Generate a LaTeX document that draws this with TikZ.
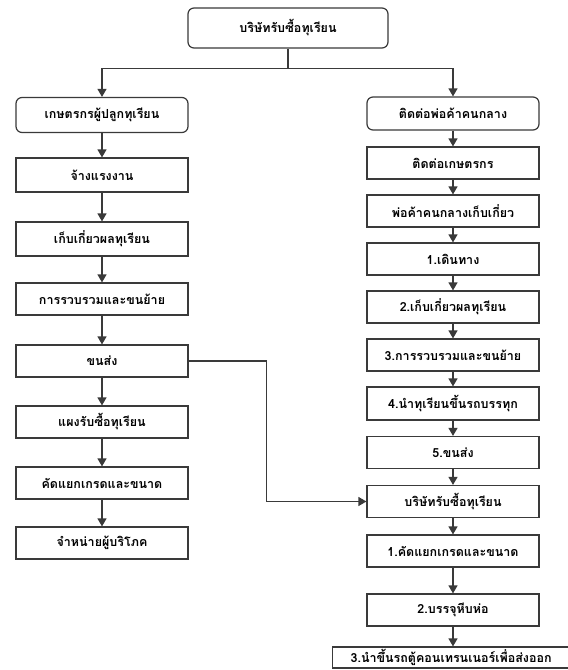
\documentclass[tikz,border=0pt]{standalone}
\usepackage{fontspec}
\newfontfamily\thaifont[Script=Thai]{Loma}
\usetikzlibrary{arrows.meta}
\definecolor{ln}{HTML}{3A3A3A}
\tikzset{
  box/.style={draw=ln, line width=1.2pt, fill=white, minimum width=172pt, minimum height=32pt,
    inner sep=1pt, font=\thaifont\bfseries\fontsize{12.5}{14}\selectfont, text=black},
  rbox/.style={box, rounded corners=6pt},
  arr/.style={draw=ln, line width=1.2pt, -{Triangle[width=9pt,length=8pt]}},
  ln/.style={draw=ln, line width=1.2pt}
}
\begin{document}
\begin{tikzpicture}[x=1pt,y=-1pt]
\useasboundingbox (0,0) rectangle (568,670);
\clip (0,0) rectangle (568,670);
\fill[white] (0,0) rectangle (568,670);
% top
\node[rbox, minimum width=200pt, minimum height=40pt] (top) at (288,28) {บริษัทรับซื้อทุเรียน};
% left column
\node[rbox, minimum height=35pt] (L1) at (102,115) {เกษตรกรผู้ปลูกทุเรียน};
\node[box, minimum height=34pt] (L2) at (102,175) {จ้างแรงงาน};
\node[box, minimum height=34pt] (L3) at (102,239) {เก็บเกี่ยวผลทุเรียน};
\node[box] (L4) at (102,299) {การรวบรวมและขนย้าย};
\node[box] (L5) at (102,361) {ขนส่ง};
\node[box] (L6) at (102,422) {แผงรับซื้อทุเรียน};
\node[box] (L7) at (102,483) {คัดแยกเกรดและขนาด};
\node[box] (L8) at (102,543) {จำหน่ายผู้บริโภค};
% right column
\node[rbox, minimum height=33pt] (R1) at (453,113.5) {ติดต่อพ่อค้าคนกลาง};
\node[box] (R2) at (453,163) {ติดต่อเกษตรกร};
\node[box] (R3) at (453,211) {พ่อค้าคนกลางเก็บเกี่ยว};
\node[box] (R4) at (453,259) {1.เดินทาง};
\node[box] (R5) at (453,307) {2.เก็บเกี่ยวผลทุเรียน};
\node[box] (R6) at (453,355) {3.การรวบรวมและขนย้าย};
\node[box, minimum height=33pt] (R7) at (453,403.5) {4.นำทุเรียนขึ้นรถบรรทุก};
\node[box] (R8) at (453,452.5) {5.ขนส่ง};
\node[box] (R9) at (453,501.5) {บริษัทรับซื้อทุเรียน};
\node[box] (R10) at (453,551) {1.คัดแยกเกรดและขนาด};
\node[box] (R11) at (453,610) {2.บรรจุหีบห่อ};
\node[box, minimum width=243pt, minimum height=21pt, anchor=west] (R12) at (332,657.5) {\hspace*{-6pt}3.นำขึ้นรถตู้คอนเทรนเนอร์เพื่อส่งออก};
% top connectors
\draw[ln] (top.south) -- ++(0,20) coordinate (j);
\draw[arr] (j) -| (L1.north);
\draw[arr] (j) -| (R1.north);
% left chain
\foreach \a/\b in {L1/L2,L2/L3,L3/L4,L4/L5,L5/L6,L6/L7,L7/L8}
  \draw[arr] (\a.south) -- (\b.north);
% right chain
\foreach \a/\b in {R1/R2,R2/R3,R3/R4,R4/R5,R5/R6,R6/R7,R7/R8,R8/R9,R9/R10,R10/R11}
  \draw[arr] (\a.south) -- (\b.north);
\draw[arr] (R11.south) -- (R11.south |- R12.north);
% cross connector
\draw[arr] (L5.east) -- ++(78,0) |- (R9.west);
\end{tikzpicture}
\end{document}
